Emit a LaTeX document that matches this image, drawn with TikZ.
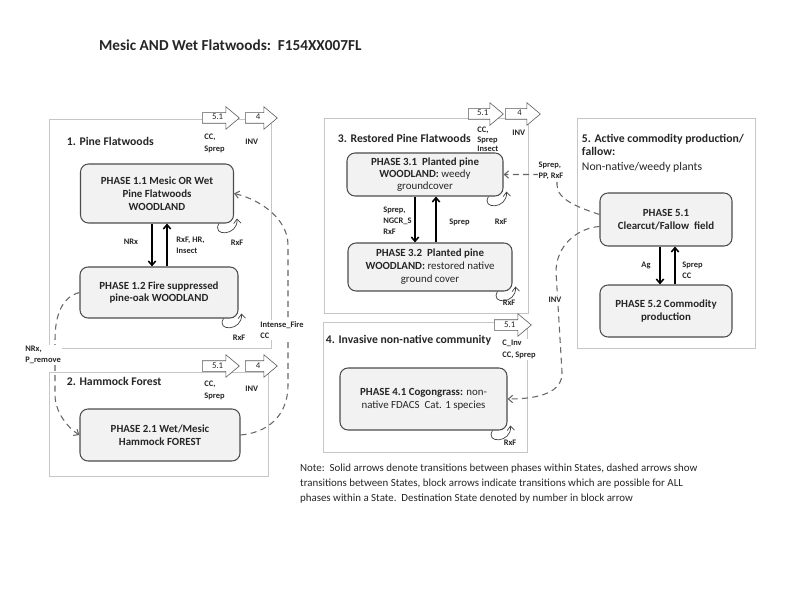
\documentclass[tikz,border=0pt]{standalone}
\usepackage{fontspec}
\setmainfont{Carlito}
\usetikzlibrary{shapes,shapes.arrows,positioning,calc,arrows.meta}
\tikzset{>={Straight Barb[length=1.3mm,width=2.2mm]}}
\colorlet{penColor}{black!85}
\colorlet{frameColor}{gray!45}
\colorlet{boxFill}{gray!10}
\colorlet{dashColor}{gray!80!black}
\tikzset{
  phase/.style={draw=black!70, fill=boxFill, rounded corners=2.4mm, line width=0.9pt, align=center,
    font=\fontsize{9.3}{11}\selectfont\bfseries, text=penColor, inner sep=2pt},
  statebox/.style={draw=frameColor, line width=0.8pt},
  statetitle/.style={anchor=west, font=\fontsize{10}{11}\selectfont\bfseries, text=penColor, inner sep=1.5pt},
  blockarrow/.style={single arrow, draw=black!65, fill=white, line width=0.5pt, anchor=west,
    minimum height=11.1mm, single arrow head extend=1.8mm, single arrow tip angle=80,
    inner xsep=1.5pt, inner ysep=0.6mm, text height=1.5mm, text depth=0.3mm,
    font=\fontsize{7.5}{8}\selectfont, text=penColor},
  lbl/.style={align=left, font=\fontsize{7.2}{9.5}\selectfont\bfseries, text=penColor, inner sep=1pt},
  within/.style={->, line width=1.3pt, draw=black},
  selfloop/.style={->, line width=0.6pt, draw=black!75},
  between/.style={->, dash pattern=on 1.8mm off 1.3mm, line width=0.9pt, draw=dashColor},
}
\begin{document}
\begin{tikzpicture}[x=0.3mm,y=-0.3mm]
\fill[white] (0,0) rectangle (800,600);
\useasboundingbox (0,0) rectangle (800,600);
\node[font=\fontsize{13}{15}\selectfont\bfseries, text=penColor, anchor=west] (title) at (95,45) {Mesic AND Wet Flatwoods:\ \ F154XX007FL};
% state frames
\draw[statebox] (49,119) rectangle (271,348);
\draw[statebox] (49,372) rectangle (268,476);
\draw[statebox] (324,118) rectangle (528,313);
\draw[statebox] (323,322) rectangle (527,452);
\draw[statebox] (577,118) rectangle (755,348);
\node[statetitle] (s1) at (65,141) {1. Pine Flatwoods};
\node[statetitle] (s2) at (65,381) {2. Hammock Forest};
\node[statetitle] (s3) at (336,138) {3. Restored Pine Flatwoods};
\node[statetitle, fill=white] (s4) at (324,340) {4. Invasive non-native community};
\node[statetitle, anchor=north west, align=left] (s5) at (580,132) {5. Active commodity production/\\fallow:\\[2.5pt]{\mdseries Non-native/weedy plants}};
% phases
\node[phase, minimum width=45.9mm, minimum height=17.7mm] (p11) at (157,193.5) {PHASE 1.1 Mesic OR Wet\\Pine Flatwoods\\WOODLAND};
\node[phase, minimum width=47.4mm, minimum height=15.3mm] (p12) at (159,292.5) {PHASE 1.2 Fire suppressed\\pine-oak WOODLAND};
\node[phase, minimum width=48mm, minimum height=15.6mm] (p21) at (160,435) {PHASE 2.1 Wet/Mesic\\Hammock FOREST};
\node[phase, minimum width=46.8mm, minimum height=12.9mm, font=\fontsize{9.3}{10}\selectfont\bfseries] (p31) at (425,174.5) {PHASE 3.1\ \ Planted pine\\WOODLAND: {\mdseries weedy}\\{\mdseries groundcover}};
\node[phase, minimum width=49.2mm, minimum height=14.4mm] (p32) at (430,267) {PHASE 3.2\ \ Planted pine\\WOODLAND: {\mdseries restored native}\\{\mdseries ground cover}};
\node[phase, minimum width=50.1mm, minimum height=18.6mm] (p41) at (423.5,399) {PHASE 4.1 Cogongrass: {\mdseries non-}\\{\mdseries native FDACS\ \ Cat. 1 species}};
\node[phase, minimum width=39.6mm, minimum height=15.9mm] (p51) at (666,219.5) {PHASE 5.1\\Clearcut/Fallow\ \ field};
\node[phase, minimum width=39.6mm, minimum height=15.6mm] (p52) at (666,311) {PHASE 5.2 Commodity\\production};
% transitions within states
\draw[within] ($(p11.south)+(-5,0)$) -- ($(p12.north)+(-7,0)$);
\draw[within] ($(p12.north)+(8,0)$) -- ($(p11.south)+(10,0)$);
\draw[within] ($(p31.south)+(-10,0)$) -- ($(p32.north)+(-15,0)$);
\draw[within] ($(p32.north)+(6,0)$) -- ($(p31.south)+(11,0)$);
\draw[within] ($(p51.south)+(-6,0)$) -- ($(p52.north)+(-6,0)$);
\draw[within] ($(p52.north)+(9,0)$) -- ($(p51.south)+(9,0)$);
\node[lbl] (l11) at (131,242) {NRx};
\node[lbl, anchor=west] (l12) at (175,245.5) {RxF, HR,\\Insect};
\node[lbl, anchor=east, font=\fontsize{7.2}{9.2}\selectfont\bfseries] (l31) at (413,221) {Sprep,\\NGCR\_S\\RxF};
\node[lbl, anchor=west] (l32) at (448,222) {Sprep};
\node[lbl, anchor=east] (l51) at (652,265) {Ag};
\node[lbl, anchor=west] (l52) at (681,270) {Sprep\\CC};
% self loops
\foreach \p in {p11,p12,p31,p32,p41}
  \draw[selfloop] ($(\p.south east)+(-15,0)$) .. controls +(-8,13) and +(1,18) .. ($(\p.south east)+(3,-5)$);
\node[lbl] (r11) at (237,243) {RxF};
\node[lbl] (r12) at (239,338) {RxF};
\node[lbl] (r31) at (501,222) {RxF};
\node[lbl] (r32) at (509,303) {RxF};
\node[lbl] (r41) at (510,443) {RxF};
% block arrows
\node[blockarrow] (b15) at (202,118) {5.1};
\node[blockarrow, minimum height=9.6mm] (b14) at (245,118) {4};
\node[blockarrow] (b25) at (202,366) {5.1};
\node[blockarrow, minimum height=9.6mm] (b24) at (245,366) {4};
\node[blockarrow, minimum height=10.5mm] (b35) at (468,114) {5.1};
\node[blockarrow, minimum height=10.5mm] (b34) at (505,114) {4};
\node[blockarrow] (b45) at (494,325) {5.1};
\node[lbl, anchor=north west] (l15) at (203,133) {CC,\\Sprep};
\node[lbl, anchor=west] (l14) at (244,142) {INV};
\node[lbl, anchor=north west] (l25) at (203,380) {CC,\\Sprep};
\node[lbl, anchor=west] (l24) at (244,389) {INV};
\node[lbl, anchor=north west, font=\fontsize{7.2}{7.8}\selectfont\bfseries] (l35) at (476,126) {CC,\\Sprep\\Insect};
\node[lbl, anchor=west] (l34) at (511,133) {INV};
\node[lbl, anchor=north west, fill=white] (l45) at (501,339) {C\_Inv\\CC, Sprep};
% transitions between states
\draw[between] (p21.east) .. controls (265,433) and (288,418) .. (288,385) -- (288,245) .. controls (288,220) and (262,200) .. (p11.east);
\draw[between] (p12.west) .. controls (62,297) and (55,315) .. (55,340) -- (55,395) .. controls (55,412) and (68,428) .. (p21.west);
\draw[between] ($(p51.west)+(0,-5)$) .. controls (580,208) and (557,200) .. (557,185) |- (p31.east);
\draw[between] ($(p51.west)+(0,7)$) .. controls (578,228) and (556,245) .. (556,272) -- (562,372) .. controls (563,392) and (540,399) .. (p41.east);
\node[lbl, fill=white, anchor=west] (lfire) at (259,330) {Intense\_Fire\\CC};
\node[lbl, fill=white, anchor=west] (lnrx) at (24,355) {NRx,\\P\_remove};
\node[lbl, fill=white] (lpp) at (551,171) {Sprep,\\PP, RxF};
\node[lbl, fill=white] (linv) at (555,300) {INV};
% note
\node[anchor=north west, align=left, font=\fontsize{9.3}{12.8}\selectfont, text=penColor] (note) at (296,460) {Note:\ \ Solid arrows denote transitions between phases within States, dashed arrows show\\transitions between States, block arrows indicate transitions which are possible for ALL\\phases within a State.\ \ Destination State denoted by number in block arrow};
\end{tikzpicture}
\end{document}
